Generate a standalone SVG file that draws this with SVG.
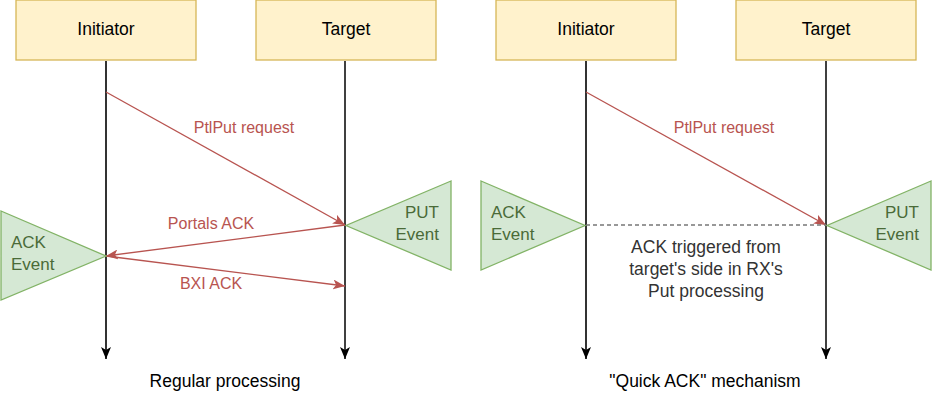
<svg xmlns="http://www.w3.org/2000/svg" width="932" height="408" viewBox="0 0 932 408">
<defs>
<style>
.box{fill:#fff2cc;stroke:#d6b656;stroke-width:1.3}
.tri{fill:#d5e8d4;stroke:#82b366;stroke-width:1.3}
.t{font-family:"Liberation Sans",Arial,sans-serif;font-size:17.5px;fill:#000}
.tg{font-family:"Liberation Sans",Arial,sans-serif;font-size:17px;fill:#4a6b38}
.tr{font-family:"Liberation Sans",Arial,sans-serif;font-size:16px;fill:#b85450}
.td{font-family:"Liberation Sans",Arial,sans-serif;font-size:17.5px;fill:#333}
.ll{fill:none;stroke:#333;stroke-width:2}
.lt{fill:none;stroke:#000;stroke-width:1.5}
.ra{fill:none;stroke:#b85450;stroke-width:1.3}
.dash{fill:none;stroke:#777;stroke-width:1.3;stroke-dasharray:4 3}
</style>
<marker id="ak" markerUnits="userSpaceOnUse" viewBox="0 0 12 10" markerWidth="12" markerHeight="10" refX="12" refY="5" orient="auto"><path d="M0,0 L12,5 L0,10 L3,5 Z" fill="#000"/></marker>
<marker id="ar" markerUnits="userSpaceOnUse" viewBox="0 0 12 10" markerWidth="12" markerHeight="10" refX="12" refY="5" orient="auto"><path d="M0,0 L12,5 L0,10 L3,5 Z" fill="#b85450"/></marker>
</defs>
<g id="connectors">
<line class="ll" x1="106" y1="61" x2="106" y2="359" marker-end="url(#ak)"/>
<line class="lt" x1="345" y1="61" x2="345" y2="359" marker-end="url(#ak)"/>
<line class="ll" x1="586" y1="61" x2="586" y2="359" marker-end="url(#ak)"/>
<line class="lt" x1="826" y1="61" x2="826" y2="359" marker-end="url(#ak)"/>
<line class="ra" x1="106" y1="92" x2="345" y2="225" marker-end="url(#ar)"/>
<line class="ra" x1="345" y1="225" x2="106" y2="256" marker-end="url(#ar)"/>
<line class="ra" x1="106" y1="256" x2="345" y2="286" marker-end="url(#ar)"/>
<line class="ra" x1="586" y1="92" x2="826" y2="225" marker-end="url(#ar)"/>
<line class="dash" x1="586" y1="225" x2="826" y2="225"/>
<text class="tr" x="244" y="133" text-anchor="middle">PtlPut request</text>
<text class="tr" x="211" y="229" text-anchor="middle">Portals ACK</text>
<text class="tr" x="211" y="289" text-anchor="middle">BXI ACK</text>
<text class="tr" x="724" y="133" text-anchor="middle">PtlPut request</text>
</g>
<g id="initiator1"><rect class="box" x="16" y="0" width="180" height="60"/><text class="t" x="106" y="35" text-anchor="middle">Initiator</text></g>
<g id="target1"><rect class="box" x="256" y="0" width="180" height="60"/><text class="t" x="346" y="35" text-anchor="middle">Target</text></g>
<g id="initiator2"><rect class="box" x="496" y="0" width="180" height="60"/><text class="t" x="586" y="35" text-anchor="middle">Initiator</text></g>
<g id="target2"><rect class="box" x="736" y="0" width="180" height="60"/><text class="t" x="826" y="35" text-anchor="middle">Target</text></g>
<g id="ackEvent1"><polygon class="tri" points="1,211 106,256 1,300"/><text class="tg" x="11" y="248">ACK</text><text class="tg" x="11" y="270">Event</text></g>
<g id="putEvent1"><polygon class="tri" points="451,181 346,225.5 451,270"/><text class="tg" x="439" y="218" text-anchor="end">PUT</text><text class="tg" x="439" y="240" text-anchor="end">Event</text></g>
<g id="ackEvent2"><polygon class="tri" points="481,181 585,225.5 481,270"/><text class="tg" x="491" y="218">ACK</text><text class="tg" x="491" y="240">Event</text></g>
<g id="putEvent2"><polygon class="tri" points="931,181 827,225.5 931,270"/><text class="tg" x="919" y="218" text-anchor="end">PUT</text><text class="tg" x="919" y="240" text-anchor="end">Event</text></g>
<g id="note"><text class="td" text-anchor="middle"><tspan x="706" y="253">ACK triggered from</tspan><tspan x="706" y="275">target's side in RX's</tspan><tspan x="706" y="297">Put processing</tspan></text></g>
<g id="caption1"><text class="t" x="225" y="387" text-anchor="middle">Regular processing</text></g>
<g id="caption2"><text class="t" x="705" y="387" text-anchor="middle">"Quick ACK" mechanism</text></g>
</svg>
